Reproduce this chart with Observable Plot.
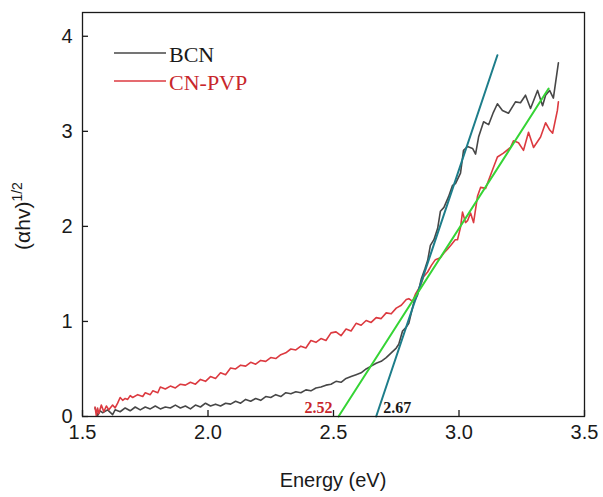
<!DOCTYPE html>
<html><head><meta charset="utf-8">
<script src="https://cdn.jsdelivr.net/npm/d3@7"></script>
<script src="https://cdn.jsdelivr.net/npm/@observablehq/plot@0.6"></script>
<style>body{margin:0;background:#fff}#chart{width:603px;height:497px}</style>
</head><body><div id="chart"></div>
<script>
// BCN curve
const bcnE = [1.55,1.56,1.57,1.58,1.60,1.62,1.63,1.65,1.67,1.69,1.71,1.73,1.75,1.77,1.79,1.81,1.83,1.85,1.87,1.89,1.91,1.93,1.95,1.97,1.99,2.01,2.03,2.05,2.07,2.09,2.11,2.13,2.15,2.17,2.19,2.21,2.23,2.25,2.27,2.29,2.31,2.33,2.35,2.37,2.39,2.41,2.43,2.45,2.47,2.49,2.51,2.53,2.55,2.57,2.59,2.61,2.63,2.65,2.67,2.69,2.71,2.73,2.75,2.76,2.775,2.79,2.80,2.82,2.835,2.85,2.865,2.875,2.886,2.90,2.915,2.926,2.94,2.958,2.974,2.986,3.006,3.018,3.034,3.054,3.066,3.078,3.098,3.118,3.137,3.153,3.173,3.197,3.225,3.245,3.265,3.285,3.313,3.333,3.345,3.361,3.376,3.396];
const bcnY = [0.09,0.01,0.06,0.04,0.07,0.02,0.07,0.05,0.09,0.06,0.10,0.07,0.10,0.08,0.11,0.08,0.10,0.09,0.12,0.09,0.11,0.08,0.12,0.10,0.14,0.11,0.13,0.11,0.14,0.13,0.16,0.14,0.18,0.16,0.19,0.17,0.21,0.20,0.23,0.21,0.25,0.24,0.26,0.25,0.28,0.27,0.30,0.31,0.33,0.34,0.37,0.36,0.40,0.42,0.44,0.46,0.50,0.53,0.56,0.58,0.62,0.67,0.72,0.76,0.90,0.94,0.98,1.20,1.28,1.45,1.56,1.64,1.80,1.86,1.98,2.16,2.20,2.31,2.43,2.45,2.56,2.80,2.84,2.82,2.76,2.94,3.10,3.07,3.20,3.29,3.22,3.19,3.31,3.30,3.38,3.24,3.43,3.27,3.38,3.43,3.35,3.72];
// CN-PVP curve
const pvpE = [1.55,1.555,1.56,1.565,1.575,1.585,1.595,1.605,1.62,1.63,1.64,1.65,1.66,1.67,1.68,1.69,1.70,1.72,1.74,1.75,1.77,1.78,1.80,1.81,1.83,1.85,1.87,1.89,1.91,1.93,1.95,1.97,1.99,2.01,2.03,2.05,2.07,2.09,2.11,2.13,2.15,2.17,2.19,2.21,2.23,2.25,2.27,2.29,2.31,2.33,2.35,2.37,2.39,2.41,2.43,2.45,2.47,2.49,2.51,2.53,2.55,2.57,2.59,2.61,2.63,2.65,2.67,2.69,2.71,2.73,2.75,2.77,2.79,2.80,2.815,2.827,2.847,2.859,2.875,2.89,2.906,2.926,2.94,2.954,2.97,2.985,2.994,3.006,3.014,3.026,3.034,3.046,3.058,3.074,3.086,3.106,3.133,3.153,3.177,3.205,3.217,3.237,3.257,3.277,3.297,3.325,3.345,3.36,3.373,3.392,3.396];
const pvpY = [0.10,0.01,0.09,0.03,0.12,0.05,0.11,0.07,0.12,0.09,0.14,0.20,0.17,0.19,0.18,0.22,0.20,0.23,0.21,0.25,0.23,0.27,0.25,0.31,0.29,0.32,0.30,0.34,0.33,0.36,0.34,0.39,0.37,0.42,0.40,0.46,0.44,0.51,0.50,0.54,0.53,0.57,0.55,0.59,0.58,0.62,0.61,0.65,0.67,0.71,0.70,0.74,0.72,0.80,0.78,0.82,0.80,0.88,0.89,0.85,0.92,0.90,0.98,0.96,1.01,0.99,1.04,1.03,1.09,1.08,1.14,1.17,1.23,1.24,1.21,1.29,1.38,1.47,1.52,1.59,1.65,1.67,1.72,1.76,1.81,1.86,1.86,1.99,2.15,2.04,2.06,2.14,2.04,2.32,2.41,2.40,2.59,2.73,2.77,2.83,2.90,2.88,2.80,2.99,2.83,2.94,3.09,3.02,2.98,3.22,3.31];
// Tangent (band-gap) lines: [x0, x1], [y0, y1]
const bcnFitE = [2.67, 3.153], bcnFitY = [0, 3.80];
const pvpFitE = [2.52, 3.357], pvpFitY = [0, 3.45];
// Annotations
const gapE = [2.52, 2.67];
const gapLabels = ["2.52", "2.67"];
// Ticks
const xTicks = [1.5, 2.0, 2.5, 3.0, 3.5];
const yTicks = [0, 1, 2, 3, 4];
const seriesNames = ["BCN", "CN-PVP"];

const GRAY = "#474747", RED = "#dc3a40", TEAL = "#1d7d8a", GREEN = "#35d435";
const bcn = bcnE.map((x, i) => ({x, y: bcnY[i]}));
const pvp = pvpE.map((x, i) => ({x, y: pvpY[i]}));
const bcnFit = bcnFitE.map((x, i) => ({x, y: bcnFitY[i]}));
const pvpFit = pvpFitE.map((x, i) => ({x, y: pvpFitY[i]}));
const gaps = gapE.map((x, i) => ({x, label: gapLabels[i]}));

const W = 603, H = 497, ML = 82, MR = 19, MT = 12, MB = 81, TICK = 6;
const chart = Plot.plot({
  width: W, height: H,
  marginLeft: ML, marginRight: MR, marginTop: MT, marginBottom: MB,
  style: {fontFamily: "'Liberation Sans', Arial, sans-serif", fontSize: "20px", color: "#1a1a1a", background: "#fff"},
  x: {domain: [1.5, 3.5]},
  y: {domain: [0, 4.25]},
  marks: [
    Plot.line(bcn, {x: "x", y: "y", stroke: GRAY, strokeWidth: 1.6}),
    Plot.line(pvp, {x: "x", y: "y", stroke: RED, strokeWidth: 1.6}),
    Plot.line(bcnFit, {x: "x", y: "y", stroke: TEAL, strokeWidth: 2}),
    Plot.line(pvpFit, {x: "x", y: "y", stroke: GREEN, strokeWidth: 2}),
    Plot.text([gaps[0]], {x: "x", y: () => 0, text: "label", textAnchor: "end", dx: -6, dy: -9, fill: "#c8262c", fontFamily: "'Liberation Serif', 'Times New Roman', serif", fontWeight: "bold", fontSize: 16}),
    Plot.text([gaps[1]], {x: "x", y: () => 0, text: "label", textAnchor: "start", dx: 7, dy: -9, fill: "#1a1a1a", fontFamily: "'Liberation Serif', 'Times New Roman', serif", fontWeight: "bold", fontSize: 16}),
    // inward tick marks
    Plot.tickX(xTicks, {x: d => d, stroke: "#1a1a1a", strokeWidth: 1.3, insetTop: H - MT - MB - TICK}),
    Plot.tickY(yTicks, {y: d => d, stroke: "#1a1a1a", strokeWidth: 1.3, insetRight: W - ML - MR - TICK}),
    Plot.axisX({ticks: xTicks, tickSize: 0, tickPadding: 8, tickFormat: d3.format(".1f"), label: null}),
    Plot.axisY({ticks: yTicks, tickSize: 0, tickPadding: 10, tickFormat: d3.format("d"), label: null}),
    Plot.frame({stroke: "#1a1a1a", strokeWidth: 1.3})
  ]
});
document.getElementById("chart").appendChild(chart);

const svg = d3.select(chart);
// axis titles
svg.append("text").attr("x", 333).attr("y", 487).attr("text-anchor", "middle")
  .attr("font-family", "'Liberation Sans', Arial, sans-serif").attr("font-size", 20).attr("fill", "#1a1a1a")
  .text("Energy (eV)");
const yl = svg.append("text").attr("transform", "translate(30,216) rotate(-90)").attr("text-anchor", "middle")
  .attr("font-family", "'Liberation Sans', Arial, sans-serif").attr("font-size", 21).attr("fill", "#1a1a1a");
yl.append("tspan").text("(αhv)");
yl.append("tspan").attr("font-size", 14).attr("dy", -8).text("1/2");
// legend
const leg = [{name: seriesNames[0], color: GRAY, text: "#1a1a1a", y: 53}, {name: seriesNames[1], color: RED, text: "#c8262c", y: 81}];
const lg = svg.append("g").attr("text-anchor", "start");
leg.forEach(d => {
  lg.append("line").attr("x1", 114).attr("x2", 166).attr("y1", d.y).attr("y2", d.y).attr("stroke", d.color).attr("stroke-width", 1.6);
  lg.append("text").attr("x", 169).attr("y", d.y + 9).attr("text-anchor", "start").attr("font-family", "'Liberation Serif', 'Times New Roman', serif")
    .attr("font-size", 22).attr("fill", d.text).text(d.name);
});
</script>
</body></html>
